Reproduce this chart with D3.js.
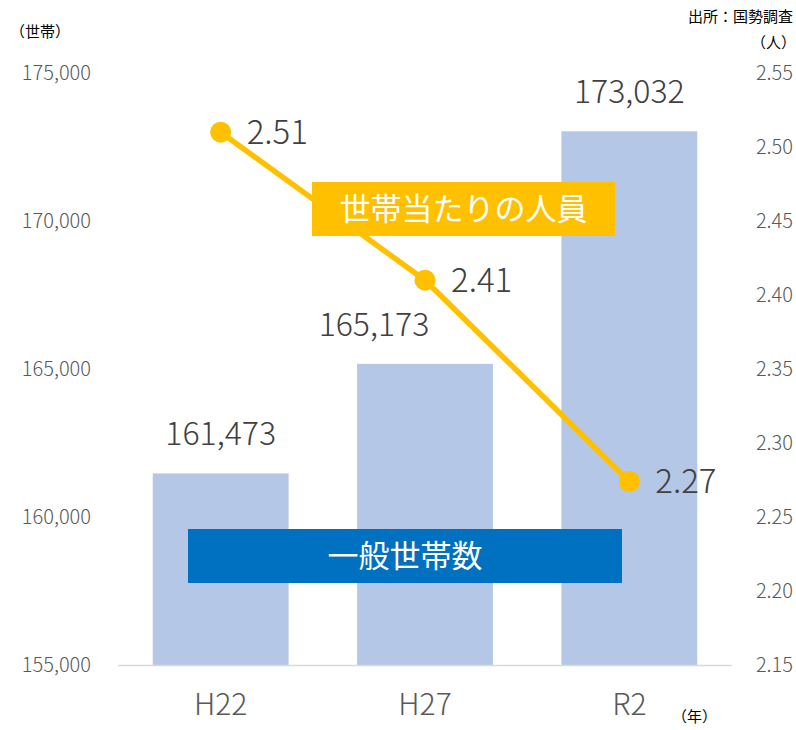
<!DOCTYPE html>
<html lang="ja">
<head>
<meta charset="utf-8">
<script src="https://cdn.jsdelivr.net/npm/d3@7"></script>
<style>
  body { margin: 0; background: #fff; }
  svg text { font-family: "Noto Sans CJK JP", "Noto Sans", sans-serif; }
  .tick text { fill: #595959; font-size: 20px; font-weight: 300; }
  .x-axis .tick text { font-size: 30px; fill: #595959; }
</style>
</head>
<body>
<svg id="chart" width="796" height="730"></svg>
<script>
// Data
const years = ['H22', 'H27', 'R2'];
const households = [161473, 165173, 173032];
const perHousehold = [2.51, 2.41, 2.274];
const leftTicks = [155000, 160000, 165000, 170000, 175000];
const rightTicks = [2.15, 2.20, 2.25, 2.30, 2.35, 2.40, 2.45, 2.50, 2.55];

const svg = d3.select('#chart');
const plot = { left: 118, right: 732, top: 73, bottom: 665 };

const x = d3.scaleBand()
  .domain(years)
  .range([plot.left, plot.right])
  .paddingInner(0.335)
  .paddingOuter(0.17);

const yLeft = d3.scaleLinear().domain([155000, 175000]).range([plot.bottom, plot.top]);
const yRight = d3.scaleLinear().domain([2.15, 2.55]).range([plot.bottom, plot.top]);

// Left axis (labels only)
const leftAxis = svg.append('g')
  .attr('transform', 'translate(91,0)')
  .call(d3.axisLeft(yLeft).tickValues(leftTicks).tickSize(0).tickPadding(0)
    .tickFormat(d3.format(',')));
leftAxis.select('.domain').remove();

// Right axis (labels only)
const rightAxis = svg.append('g')
  .attr('transform', 'translate(793,0)')
  .call(d3.axisLeft(yRight).tickValues(rightTicks).tickSize(0).tickPadding(0)
    .tickFormat(d3.format('.2f')));
rightAxis.select('.domain').remove();

// Bars
svg.append('g').selectAll('rect')
  .data(years)
  .join('rect')
    .attr('x', (d) => x(d))
    .attr('y', (d, i) => yLeft(households[i]))
    .attr('width', x.bandwidth())
    .attr('height', (d, i) => yLeft(155000) - yLeft(households[i]))
    .attr('fill', '#B4C7E7');

// Baseline
svg.append('line')
  .attr('x1', plot.left).attr('x2', plot.right)
  .attr('y1', plot.bottom + 0.5).attr('y2', plot.bottom + 0.5)
  .attr('stroke', '#D9D9D9').attr('stroke-width', 1.5);

// X axis labels
const xAxis = svg.append('g')
  .attr('class', 'x-axis')
  .attr('transform', `translate(0,${plot.bottom})`)
  .call(d3.axisBottom(x).tickSize(0).tickPadding(29));
xAxis.select('.domain').remove();

// Bar value labels; the middle one is nudged left so the line doesn't cross it
const cx = (d) => x(d) + x.bandwidth() / 2;
svg.append('g').selectAll('text')
  .data(years)
  .join('text')
    .attr('x', (d) => cx(d) - (d === 'H27' ? 51 : 0))
    .attr('y', (d, i) => yLeft(households[i]) - 28)
    .attr('text-anchor', 'middle')
    .attr('fill', '#404040')
    .attr('font-size', 32)
    .attr('font-weight', 300)
    .text((d, i) => d3.format(',')(households[i]));

// Line series
svg.append('path')
  .datum(years)
  .attr('fill', 'none')
  .attr('stroke', '#FFC000')
  .attr('stroke-width', 5.5)
  .attr('d', d3.line().x(cx).y((d, i) => yRight(perHousehold[i])));

svg.append('g').selectAll('circle')
  .data(years)
  .join('circle')
    .attr('cx', cx)
    .attr('cy', (d, i) => yRight(perHousehold[i]))
    .attr('r', 10.5)
    .attr('fill', '#FFC000');

svg.append('g').selectAll('text')
  .data(years)
  .join('text')
    .attr('x', (d) => cx(d) + 26)
    .attr('y', (d, i) => yRight(perHousehold[i]))
    .attr('dy', '0.36em')
    .attr('fill', '#404040')
    .attr('font-size', 33)
    .attr('font-weight', 300)
    .text((d, i) => perHousehold[i].toFixed(2));

// Series labels (boxes)
function labelBox(x0, y0, w, h, fill, txt) {
  svg.append('rect').attr('x', x0).attr('y', y0).attr('width', w).attr('height', h).attr('fill', fill);
  svg.append('text')
    .attr('x', x0 + w / 2).attr('y', y0 + h / 2)
    .attr('dy', '0.36em')
    .attr('text-anchor', 'middle')
    .attr('fill', '#fff')
    .attr('font-size', 31)
    .attr('font-weight', 400)
    .text(txt);
}
labelBox(312, 182, 303, 54, '#FFC000', '世帯当たりの人員');
labelBox(188, 529, 434, 54, '#0070C0', '一般世帯数');

// Unit / source notes
svg.append('text').attr('x', 10).attr('y', 37).attr('font-size', 15).attr('fill', '#000').text('（世帯）');
svg.append('text').attr('x', 793).attr('y', 22).attr('text-anchor', 'end').attr('font-size', 15).attr('fill', '#000').text('出所：国勢調査');
svg.append('text').attr('x', 796).attr('y', 48).attr('text-anchor', 'end').attr('font-size', 15).attr('fill', '#000').text('（人）');
svg.append('text').attr('x', 672).attr('y', 722).attr('font-size', 15).attr('fill', '#000').text('（年）');
</script>
</body>
</html>
